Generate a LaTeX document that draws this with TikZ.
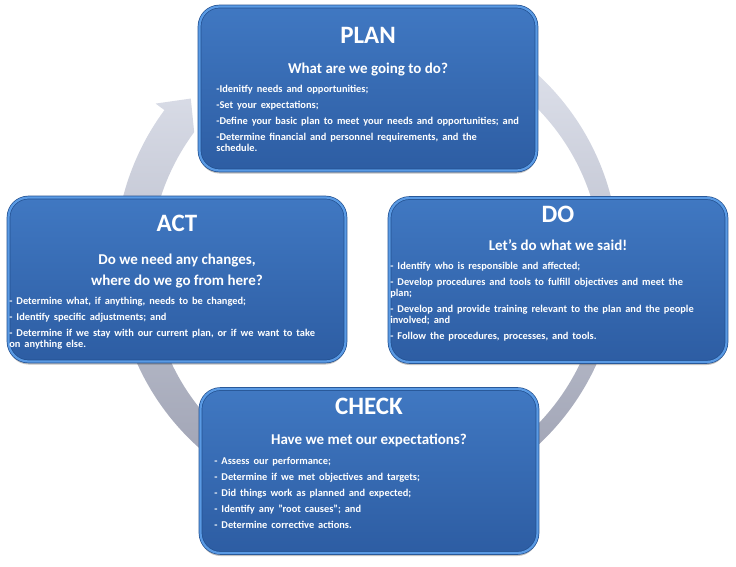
\documentclass[tikz,border=0pt]{standalone}
\usepackage{fontspec}
\setmainfont{Carlito}
\usepackage{tikz}
\usetikzlibrary{positioning,calc,shadows}
\definecolor{cFaceT}{RGB}{64,120,194}
\definecolor{cFaceB}{RGB}{45,93,163}
\definecolor{cRim}  {RGB}{90,154,228}
\definecolor{cEdge} {RGB}{34,80,144}
\definecolor{cRingT}{RGB}{232,235,244}
\definecolor{cRingB}{RGB}{150,154,172}
\newcommand\widespaces{\spaceskip=0.38em plus 0.1em minus 0.05em\relax}
\tikzset{
  stage/.style={rounded corners=20pt,minimum width=337pt,minimum height=164pt,
                inner sep=0pt,top color=cFaceT,bottom color=cFaceB,
                draw=cEdge,line width=0.7pt,double=cRim,double distance=2.2pt,
                drop shadow={shadow xshift=0pt,shadow yshift=-3pt,opacity=0.35,fill=black!70}},
  ttl/.style={text=white,inner sep=0pt,font=\fontsize{25}{27}\selectfont\bfseries},          % box heading
  sub/.style={text=white,inner sep=0pt,anchor=base,align=center,
              font=\fontsize{15}{21}\selectfont\bfseries},                                  % question line
  body/.style={text=white,inner sep=0pt,anchor=north west,align=left,
               font=\fontsize{10.4}{11}\selectfont\bfseries\widespaces},                    % bullet list
}

\begin{document}
\begin{tikzpicture}[x=1pt,y=1pt]
  \useasboundingbox (0,0) rectangle (736,-567);
  % cycle arrow behind the boxes
  \begin{scope}[shift={(367,-260)}]
    \shade[top color=cRingT,bottom color=cRingB]
      (100:252) arc[start angle=100,end angle=-216.5,radius=252]
      -- (-216.5:263) -- (-222.5:239) -- (-216.5:215)
      arc[start angle=-216.5,end angle=100,radius=226] -- cycle;
  \end{scope}
  % the four stages
  \node[stage] (plan)  at (368,-88.5) {};
  \node[stage] (act)   at (177,-279.5){};
  \node[stage] (do)    at (558,-280)  {};
  \node[stage] (check) at (369,-471)  {};
  % plan
  \node[ttl] (planT) at ([yshift=-29pt]plan.north) {PLAN};
  \node[sub] (planS) at ([yshift=-67pt]plan.north) {What are we going to do?};
  \node[body](planB) at ([xshift=17pt,yshift=-79pt]plan.north west)
    {-Idenitfy needs and opportunities;\\[5pt]
     -Set your expectations;\\[5pt]
     -Define your basic plan to meet your needs and opportunities; and\\[5pt]
     -Determine financial and personnel requirements, and the\\
     schedule.};
  % act
  \node[ttl] (actT) at ([yshift=-26pt]act.north) {ACT};
  \node[sub] (actS) at ([yshift=-88pt]act.north) {Do we need any changes,\\where do we go from here?};
  \node[body](actB) at ([xshift=1pt,yshift=-100pt]act.north west)
    {- Determine what, if anything, needs to be changed;\\[5pt]
     - Identify specific adjustments; and\\[5pt]
     - Determine if we stay with our current plan, or if we want to take\\
     on anything else.};
  % do
  \node[ttl] (doT) at ([yshift=-17pt]do.north) {DO};
  \node[sub] (doS) at ([yshift=-53pt]do.north) {Let's do what we said!};
  \node[body](doB) at ([xshift=1pt,yshift=-64pt]do.north west)
    {- Identify who is responsible and affected;\\[5pt]
     - Develop procedures and tools to fulfill objectives and meet the\\
     plan;\\[5pt]
     - Develop and provide training relevant to the plan and the people\\
     involved; and\\[5pt]
     - Follow the procedures, processes, and tools.};
  % check
  \node[ttl] (checkT) at ([yshift=-18pt]check.north) {CHECK};
  \node[sub] (checkS) at ([yshift=-56pt]check.north) {Have we met our expectations?};
  \node[body](checkB) at ([xshift=14pt,yshift=-68pt]check.north west)
    {- Assess our performance;\\[5pt]
     - Determine if we met objectives and targets;\\[5pt]
     - Did things work as planned and expected;\\[5pt]
     - Identify any "root causes"; and\\[5pt]
     - Determine corrective actions.};
\end{tikzpicture}
\end{document}
